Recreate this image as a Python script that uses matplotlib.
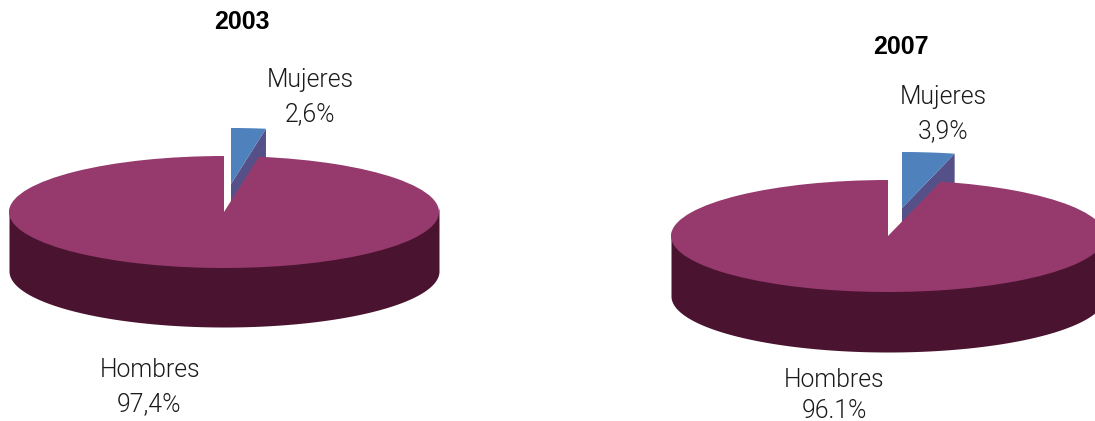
import numpy as np
import matplotlib
matplotlib.use("Agg")
import matplotlib.pyplot as plt

W, H = 1095, 421
years = ["2003", "2007"]
categories = ["Mujeres", "Hombres"]
mujeres = [2.6, 3.9]
hombres = [97.4, 96.1]
mujeres_labels = ["2,6%", "3,9%"]
hombres_labels = ["97,4%", "96.1%"]

COL_M, COL_M_SIDE = "#4F81BD", "#565088"
COL_H, COL_H_SIDE = "#963A6E", "#4A1330"

# chart geometry in pixels: centre x, centre y, x radius, y radius, depth, wedge offset x, y
geom = [(224, 212, 215, 56, 59, 7, 28), (888, 236, 217, 56, 60, 14, 28)]
# text anchors in pixels
title_pos = [(242, 22), (901, 47)]
m_pos = [(310.5, 80, 114), (943, 97, 131)]
h_pos = [(149.5, 370, 404), (834.5, 380, 410.5)]

fig = plt.figure(figsize=(W / 100, H / 100), dpi=100, facecolor="white")
plt.rcParams["font.family"] = ["Liberation Sans", "DejaVu Sans"]


def draw_pie(i):
    cx, cy, rx, ry, depth, dx, dy = geom[i]
    ax = fig.add_axes([0, 0, 1, 1], facecolor="none")
    d = depth / ry
    ox, oy = dx / rx, dy / ry
    wedges, _ = ax.pie(
        [mujeres[i], hombres[i]],
        colors=[COL_M, COL_H],
        startangle=90,
        counterclock=False,
        wedgeprops={"linewidth": 0},
    )
    ax.set_aspect("auto")
    ax.set_xlim(-cx / rx, (W - cx) / rx)
    ax.set_ylim(-(H - cy) / ry, cy / ry)
    ax.set_axis_off()

    # Mujeres cut face (only the right cut shows; the lower part is hidden by Hombres)
    frac = mujeres[i] / (mujeres[i] + hombres[i])
    ang = 2 * np.pi * frac
    ex, ey = np.sin(ang), np.cos(ang)
    ax.fill(
        [ox, ox + ex, ox + ex, ox],
        [oy, oy + ey, oy + ey - d, oy - d],
        color=COL_M_SIDE, lw=0, zorder=1,
    )
    wedges[0].set_center((ox, oy))
    wedges[0].set_zorder(2)

    # Hombres rim; it runs up under the top face so that no seam shows
    t = np.linspace(np.pi, 2 * np.pi, 300)
    ax.fill_between(np.cos(t), np.sin(t) + 0.1, np.sin(t) - d,
                    color=COL_H_SIDE, lw=0, zorder=3)
    wedges[1].set_zorder(4)


for i in range(2):
    draw_pie(i)


def px_text(x, y, s, **kw):
    fig.text(x / W, 1 - y / H, s, ha="center", va="center", **kw)


light = dict(family=["Roboto", "Liberation Sans"], fontweight=300, fontsize=17.8, color="#1a1a1a")
for i in range(2):
    px_text(*title_pos[i], years[i], fontsize=18, fontweight="bold", color="black")
    x, y1, y2 = m_pos[i]
    px_text(x, y1, categories[0], **light)
    px_text(x, y2, mujeres_labels[i], **light)
    x, y1, y2 = h_pos[i]
    px_text(x, y1, categories[1], **light)
    px_text(x, y2, hombres_labels[i], **light)

fig.savefig("out.png", dpi=100, facecolor="white")
